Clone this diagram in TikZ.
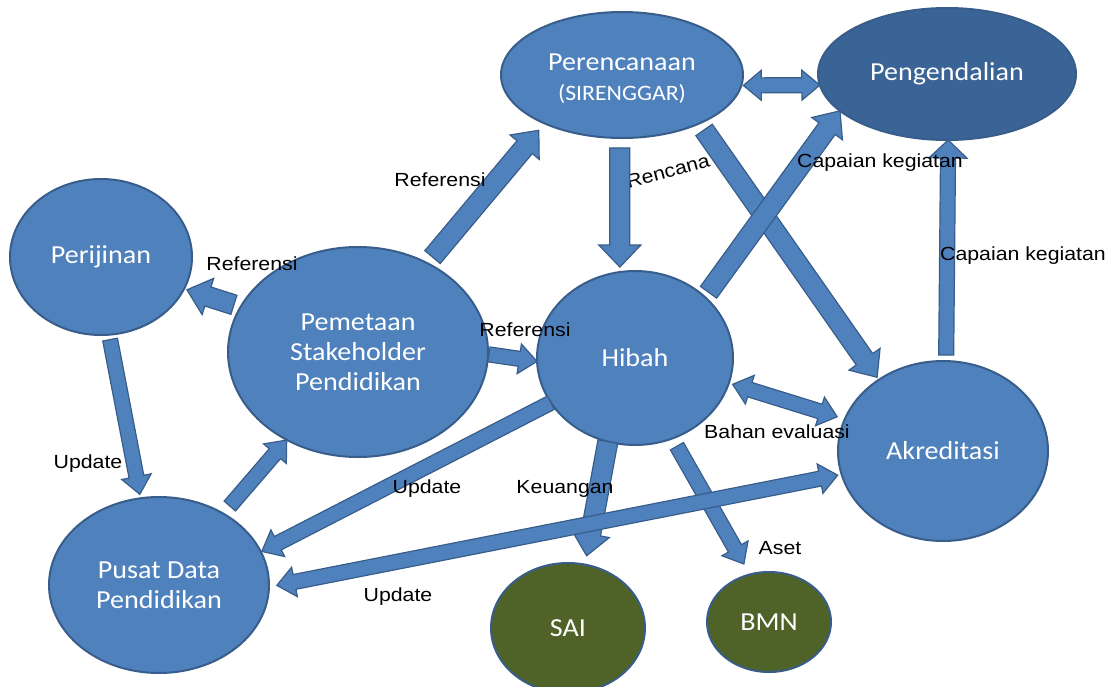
\documentclass[tikz,border=0pt]{standalone}
\usepackage{fontspec}
\usetikzlibrary{shapes.geometric,calc}
\newfontfamily\nodefont[FakeStretch=1.08]{Carlito}
\newfontfamily\lblfont[FakeStretch=1.12]{Liberation Sans}
\definecolor{nodeblue}{HTML}{4F81BD}
\definecolor{edgeblue}{HTML}{385D8A}
\definecolor{ctrlblue}{HTML}{3A6396}
\definecolor{saigreen}{HTML}{4F6228}
\def\gapS{0pt}\def\gapE{0pt}
\def\shw{10pt}\def\hdw{19pt}\def\hdl{22pt}
\tikzset{
bubble/.style={ellipse, draw=edgeblue, line width=2pt, fill=nodeblue, text=white,
  inner sep=0pt, outer sep=0pt, align=center, font=\nodefont\fontsize{26}{30}\selectfont},
lbl/.style={font=\lblfont\fontsize{19}{22}\selectfont, inner sep=1pt},
gs/.code={\def\gapS{#1pt}},
ge/.code={\def\gapE{#1pt}},
hw/.code={\def\hdw{#1pt}},
slim/.code={\def\shw{7.5pt}\def\hdw{15pt}\def\hdl{18pt}},
blk/.style={fill=nodeblue, draw=edgeblue, line width=1.2pt, to path={
  let \p1=(\tikztostart), \p2=(\tikztotarget),
      \n1={atan2(\y2-\y1,\x2-\x1)}, \n2={veclen(\x2-\x1,\y2-\y1)-\gapE}
  in {[shift={(\p1)}, rotate=\n1]
    (\gapS,-\shw) -- (\n2-\hdl,-\shw) -- (\n2-\hdl,-\hdw) -- (\n2,0pt)
    -- (\n2-\hdl,\hdw) -- (\n2-\hdl,\shw) -- (\gapS,\shw) -- cycle}}},
dblk/.style={fill=nodeblue, draw=edgeblue, line width=1.2pt, to path={
  let \p1=(\tikztostart), \p2=(\tikztotarget),
      \n1={atan2(\y2-\y1,\x2-\x1)}, \n2={veclen(\x2-\x1,\y2-\y1)-\gapE}
  in {[shift={(\p1)}, rotate=\n1]
    (\gapS,0pt) -- (\gapS+\hdl,\hdw) -- (\gapS+\hdl,\shw) -- (\n2-\hdl,\shw)
    -- (\n2-\hdl,\hdw) -- (\n2,0pt) -- (\n2-\hdl,-\hdw) -- (\n2-\hdl,-\shw)
    -- (\gapS+\hdl,-\shw) -- (\gapS+\hdl,-\hdw) -- cycle}}}
}

\begin{document}
\begin{tikzpicture}[x=1pt,y=1pt]
\useasboundingbox (0,0) rectangle (1117,-686);

\node[bubble, minimum width=242, minimum height=126] (plan) at (622,-75)
  {\rule{0pt}{24pt}Perencanaan\\[0pt]{\fontsize{22}{26}\selectfont(SIRENGGAR)}};
\node[bubble, fill=ctrlblue, minimum width=258, minimum height=132] (ctrl) at (947,-74) {Pengendalian};
\node[bubble, minimum width=182, minimum height=156] (izin) at (101,-257) {Perijinan};
\node[bubble, minimum width=260, minimum height=210] (map) at (358,-352) {Pemetaan\\Stakeholder\\Pendidikan};
\node[bubble, minimum width=196, minimum height=174] (hibah) at (635,-358) {Hibah};
\node[bubble, minimum width=210, minimum height=180] (akr) at (943,-451) {Akreditasi};
\node[bubble, minimum width=220, minimum height=176] (pusat) at (159,-585) {Pusat Data\\Pendidikan};
\node[bubble, fill=saigreen, minimum width=154, minimum height=130] (sai) at (568,-628) {SAI};
\node[bubble, fill=saigreen, minimum width=124, minimum height=100] (bmn) at (769,-622) {BMN};

\node[lbl, rotate=15] (rencana) at (668,-171) {Rencana};

\draw[dblk, slim, gs=2] (plan.-5) to (ctrl.185);
\draw[blk, gs=8, ge=9] (map.52) to (plan.212);
\draw[blk, gs=7, ge=3] (map.159) to (izin.-21);
\draw[blk, slim, gs=1] (map.-1) to (hibah.182);
\draw[blk, gs=10, ge=5, hw=21] (plan.-92) to (hibah.100);
\draw[blk, gs=8, ge=3] (plan.-32) to (akr.132);
\draw[blk, gs=6] (hibah.41) to (ctrl.199);
\draw[blk, slim, hw=19, gs=6] (akr.88) to (ctrl.-89);
\draw[dblk, slim, gs=4, ge=8] (hibah.-15) to (akr.162);
\draw[blk, ge=9] (hibah.-108) to (sai.75);
\draw[blk, slim, gs=9, ge=12] (hibah.-65) to (bmn.112);
\draw[blk, slim, gs=5, ge=4] (izin.-84) to (pusat.102);
\draw[blk, slim, gs=10] (pusat.48) to (map.-129);
\draw[blk, slim, ge=1] (hibah.208) to (pusat.18);
\draw[dblk, slim, gs=4, ge=8] (akr.193) to (pusat.-1);

\node[lbl] (ref1) at (440,-180) {Referensi};
\node[lbl] (ref2) at (252,-264) {Referensi};
\node[lbl] (ref3) at (525,-330) {Referensi};
\node[lbl] (cap1) at (880,-163) {Capaian kegiatan};
\node[lbl] (cap2) at (1023,-256) {Capaian kegiatan};
\node[lbl] (bahan) at (777,-432) {Bahan evaluasi};
\node[lbl] (uang) at (565,-489) {Keuangan};
\node[lbl] (aset) at (780,-548) {Aset};
\node[lbl] (upd1) at (88,-464) {Update};
\node[lbl] (upd2) at (427,-489) {Update};
\node[lbl] (upd3) at (398,-597) {Update};
\end{tikzpicture}
\end{document}
